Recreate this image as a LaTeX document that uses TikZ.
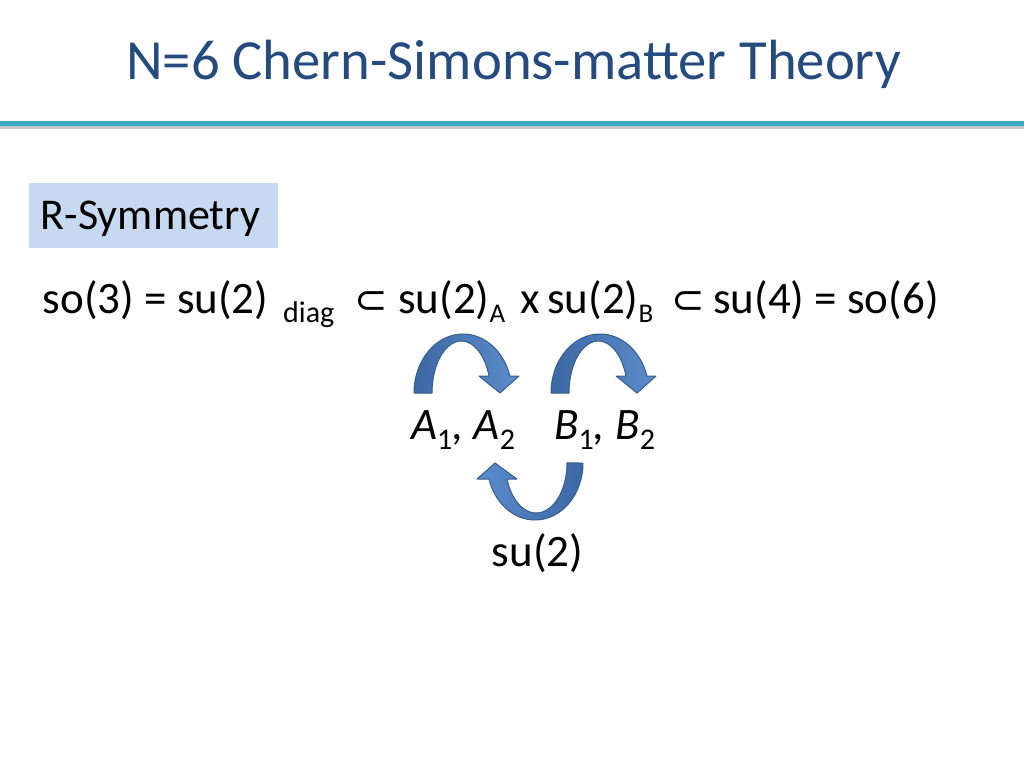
\documentclass[tikz,border=0pt]{standalone}
\usepackage{fontspec}
\setmainfont{Carlito}
\newfontfamily\symfnt{DejaVu Sans}
\definecolor{titleblue}{RGB}{36,74,126}
\definecolor{barteal}{RGB}{58,168,201}
\definecolor{barshadow}{RGB}{200,200,200}
\definecolor{boxblue}{RGB}{198,217,241}
\definecolor{arrowedge}{RGB}{56,93,138}
\definecolor{arrowdark}{RGB}{60,104,164}
\definecolor{arrowlight}{RGB}{92,140,204}
\newcommand{\mysub}[1]{\raisebox{-10.5pt}{\fontsize{30}{30}\upshape\selectfont #1}}
\newcommand{\mysubs}[1]{\raisebox{-9.5pt}{\fontsize{27}{27}\selectfont #1}}
\tikzset{
  txt/.style={anchor=base west, inner sep=0pt, font=\fontsize{45}{54}\selectfont},
  smalltxt/.style={anchor=base west, inner sep=0pt, font=\fontsize{30}{34}\selectfont},
  arrowshape/.style={draw=arrowedge, line width=1pt, line join=round},
}
\begin{document}
\begin{tikzpicture}[x=1pt,y=-1pt]
\useasboundingbox (0,0) rectangle (1024,768);
\fill[white] (0,0) rectangle (1024,768);
% title
\node (title) [anchor=base, inner sep=0pt, text=titleblue, font=\fontsize{56.7}{64}\selectfont] at (513.5,79.5) {N=6 Chern-Simons-matter Theory};
\fill[barshadow] (0,125.5) rectangle (1024,129);
\fill[barteal] (0,120.5) rectangle (1024,126);
% R-symmetry box
\node (rsbox) [fill=boxblue, inner sep=0pt, minimum width=249.4pt, minimum height=64.6pt, anchor=north west] at (28.3,182.7) {};
\node (rstext) [txt, font=\fontsize{44}{50}\selectfont] at (40.7,229.3) {R-Symmetry};
% main line
\node (l1) [txt] at (42.7,313) {so(3) = su(2)};
\node (diag) [smalltxt] at (283,322) {diag};
\node (sub1) [txt, font=\fontsize{40}{50}\symfnt] at (354,313) {⊂};
\node (l2) [txt] at (398,313) {su(2)\mysubs{A}};
\node (times) [txt] at (520,313) {x};
\node (l3) [txt] at (547,313) {su(2)\mysubs{B}};
\node (sub2) [txt, font=\fontsize{40}{50}\symfnt] at (671,313) {⊂};
\node (l4) [txt] at (713,313) {su(4) = so(6)};
% fields
\node (afields) [txt, font=\fontsize{45}{54}\itshape] at (411,439.3) {A\mysub{1}, A\mysub{2}};
\node (bfields) [txt, font=\fontsize{45}{54}\itshape] at (554,439.3) {B\mysub{1}, B\mysub{2}};
\node (su2) [txt] at (491.7,566.7) {su(2)};
% curved arrows
\path[arrowshape, left color=arrowdark, right color=arrowlight]
  (414,393) arc[start angle=180, end angle=343.3, x radius=49, y radius=59]
  -- (519,376) -- (500,393) -- (479,376) -- (489,376)
  arc[start angle=340.9, end angle=180, x radius=29.3, y radius=52] -- cycle;
\begin{scope}[shift={(137,0)}]
\path[arrowshape, left color=arrowdark, right color=arrowlight]
  (414,393) arc[start angle=180, end angle=343.3, x radius=49, y radius=59]
  -- (519,376) -- (500,393) -- (479,376) -- (489,376)
  arc[start angle=340.9, end angle=180, x radius=29.3, y radius=52] -- cycle;
\end{scope}
\path[arrowshape, left color=arrowlight, right color=arrowdark]
  (583,463) arc[start angle=0, end angle=163.7, x radius=48, y radius=57]
  -- (477,479) -- (495,463) -- (517,479) -- (507,479)
  arc[start angle=161.3, end angle=0, x radius=30.8, y radius=50] -- cycle;
\end{tikzpicture}
\end{document}
